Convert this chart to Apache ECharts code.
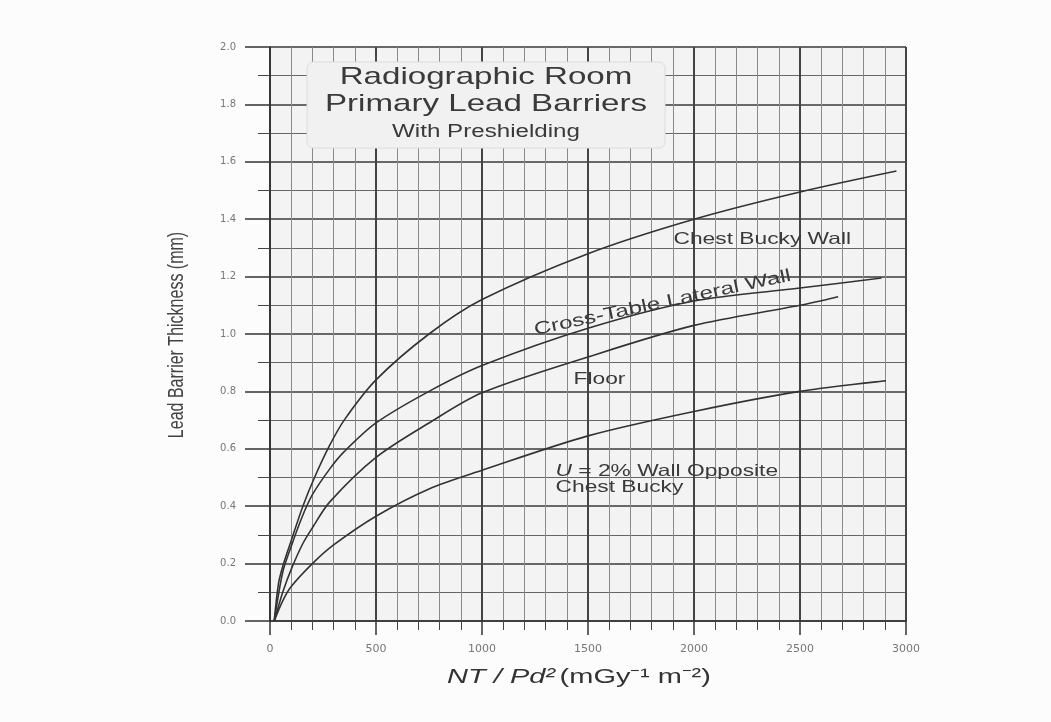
<!DOCTYPE html>
<html>
<head>
<meta charset="utf-8">
<title>Radiographic Room Primary Lead Barriers</title>
<script src="https://cdn.jsdelivr.net/npm/echarts@6/dist/echarts.min.js"></script>
<style>
  html, body { margin: 0; padding: 0; background: #fcfcfc; }
  #chart { width: 1051px; height: 722px; }
</style>
</head>
<body>
<div id="chart"></div>
<script>
// curves: [NT/Pd2, thickness mm]
let chestBucky = [[20, 0], [40, 0.13], [60, 0.19], [100, 0.28], [155, 0.40], [210, 0.50], [280, 0.61], [350, 0.70], [500, 0.84], [750, 1.0], [1000, 1.12], [1500, 1.28], [2000, 1.40], [2500, 1.495], [2955, 1.568]];
let crossTable = [[20, 0], [60, 0.17], [100, 0.26], [150, 0.36], [200, 0.44], [282, 0.53], [350, 0.59], [500, 0.69], [750, 0.80], [1000, 0.89], [1500, 1.02], [2000, 1.115], [2500, 1.16], [2885, 1.195]];
let floorWall = [[20, 0], [60, 0.10], [100, 0.18], [155, 0.27], [200, 0.325], [282, 0.415], [500, 0.57], [750, 0.69], [1000, 0.795], [1500, 0.92], [2000, 1.03], [2500, 1.10], [2680, 1.13]];
let oppositeWall = [[20, 0], [60, 0.07], [100, 0.12], [200, 0.20], [300, 0.265], [500, 0.365], [750, 0.46], [1000, 0.525], [1500, 0.645], [2000, 0.73], [2500, 0.80], [2905, 0.837]];

// curve labels, anchored in data units
let curveLabels = [
    { text: 'Chest Bucky Wall', at: [2322, 1.331], rot: 0, size: 16.5, align: 'center' },
    { text: 'Cross-Table Lateral Wall', at: [1851, 1.108], rot: 12, size: 17.5, align: 'center' },
    { text: 'Floor', at: [1554, 0.84], rot: 0, size: 16.5, align: 'center' },
    { text: '{u|U} = 2% Wall Opposite', at: [1347, 0.52], rot: 0, size: 16.5, align: 'left' },
    { text: 'Chest Bucky', at: [1347, 0.467], rot: 0, size: 16.5, align: 'left' }
];

let titleLines = ['Radiographic Room', 'Primary Lead Barriers', 'With Preshielding'];

let ink = '#333';
let stretch = 1.38;

let myChart = echarts.init(document.getElementById('chart'));

function curve(name, data) {
    return {
        name: name,
        type: 'line',
        data: data,
        showSymbol: false,
        smooth: 0.3,
        lineStyle: { color: ink, width: 1.6 },
        silent: true,
        z: 5
    };
}

let option = {
    backgroundColor: '#fcfcfc',
    animation: false,
    grid: {
        left: 270,
        right: 145,
        top: 47,
        bottom: 101,
        show: true,
        backgroundColor: '#f3f3f3',
        borderWidth: 0
    },
    xAxis: {
        type: 'value',
        min: 0,
        max: 3000,
        interval: 500,
        axisLine: { onZero: false, lineStyle: { color: '#333', width: 1.5 } },
        axisTick: { length: 14, lineStyle: { color: '#333', width: 1.5 } },
        minorTick: { show: true, splitNumber: 5, length: 9, lineStyle: { color: '#444', width: 1 } },
        axisLabel: {
            margin: 23,
            color: '#777',
            fontFamily: 'DejaVu Sans',
            fontSize: 11,
            formatter: function (v) { return String(v); }
        },
        splitLine: { lineStyle: { color: '#444', width: 2 } },
        minorSplitLine: { show: true, lineStyle: { color: '#8a8a8a', width: 1 } }
    },
    yAxis: {
        type: 'value',
        min: 0,
        max: 2,
        interval: 0.2,
        axisLine: { show: true, lineStyle: { color: '#333', width: 1.5 } },
        axisTick: { show: true, length: 25, lineStyle: { color: '#333', width: 1.5 } },
        minorTick: { show: true, splitNumber: 2, length: 12, lineStyle: { color: '#444', width: 1 } },
        axisLabel: {
            margin: 34,
            color: '#777',
            fontFamily: 'DejaVu Sans',
            fontSize: 10,
            formatter: function (v) { return v.toFixed(1); }
        },
        splitLine: { lineStyle: { color: '#3a3a3a', width: 1.6 } },
        minorSplitLine: { show: true, lineStyle: { color: '#666', width: 1.2 } }
    },
    series: [
        curve('Chest Bucky Wall', chestBucky),
        curve('Cross-Table Lateral Wall', crossTable),
        curve('Floor', floorWall),
        curve('U = 2% Wall Opposite Chest Bucky', oppositeWall)
    ]
};

myChart.setOption(option);

// texts laid on top: title box, curve labels, axis titles
function drawTexts() {
    let g = [];
    g.push({
        type: 'rect',
        shape: { x: 307, y: 62, width: 358, height: 86, r: 6 },
        style: { fill: '#f1f1f1', stroke: '#dcdcdc', lineWidth: 1 },
        z: 20
    });
    let titleY = [77, 104, 132];
    let titleSize = [24, 24, 17.5];
    titleLines.forEach(function (t, i) {
        g.push({
            type: 'text',
            x: 486,
            y: titleY[i],
            scaleX: stretch,
            z: 21,
            style: {
                text: t,
                font: titleSize[i] + 'px "Liberation Sans", Arial, sans-serif',
                fill: '#3a3a3a',
                textAlign: 'center',
                textVerticalAlign: 'middle'
            }
        });
    });
    curveLabels.forEach(function (l) {
        let p = myChart.convertToPixel({ gridIndex: 0 }, l.at);
        g.push({
            type: 'text',
            x: p[0],
            y: p[1],
            scaleX: stretch,
            rotation: l.rot * Math.PI / 180,
            z: 21,
            style: {
                text: l.text,
                font: l.size + 'px "Liberation Sans", Arial, sans-serif',
                fill: '#3a3a3a',
                textAlign: l.align,
                textVerticalAlign: 'middle',
                rich: { u: { fontStyle: 'italic', fontSize: l.size, fontFamily: 'Liberation Sans', fill: '#3a3a3a' } }
            }
        });
    });
    // x axis title
    g.push({
        type: 'text',
        x: 579,
        y: 677,
        scaleX: stretch,
        z: 21,
        style: {
            text: '{i|NT / Pd²} {n|(mGy⁻¹ m⁻²)}',
            textAlign: 'center',
            textVerticalAlign: 'middle',
            rich: {
                i: { fontStyle: 'italic', fontSize: 21, fontFamily: 'Liberation Sans', fill: '#333' },
                n: { fontSize: 21, fontFamily: 'Liberation Sans', fill: '#333' }
            }
        }
    });
    // y axis title
    g.push({
        type: 'text',
        x: 177,
        y: 335,
        rotation: Math.PI / 2,
        scaleY: stretch,
        z: 21,
        style: {
            text: 'Lead Barrier Thickness (mm)',
            font: '16px "Liberation Sans", Arial, sans-serif',
            fill: '#444',
            textAlign: 'center',
            textVerticalAlign: 'middle'
        }
    });
    myChart.setOption({ graphic: g }, { replaceMerge: ['graphic'] });
}

drawTexts();

window.addEventListener('resize', function () {
    myChart.resize();
    drawTexts();
});
</script>
</body>
</html>
